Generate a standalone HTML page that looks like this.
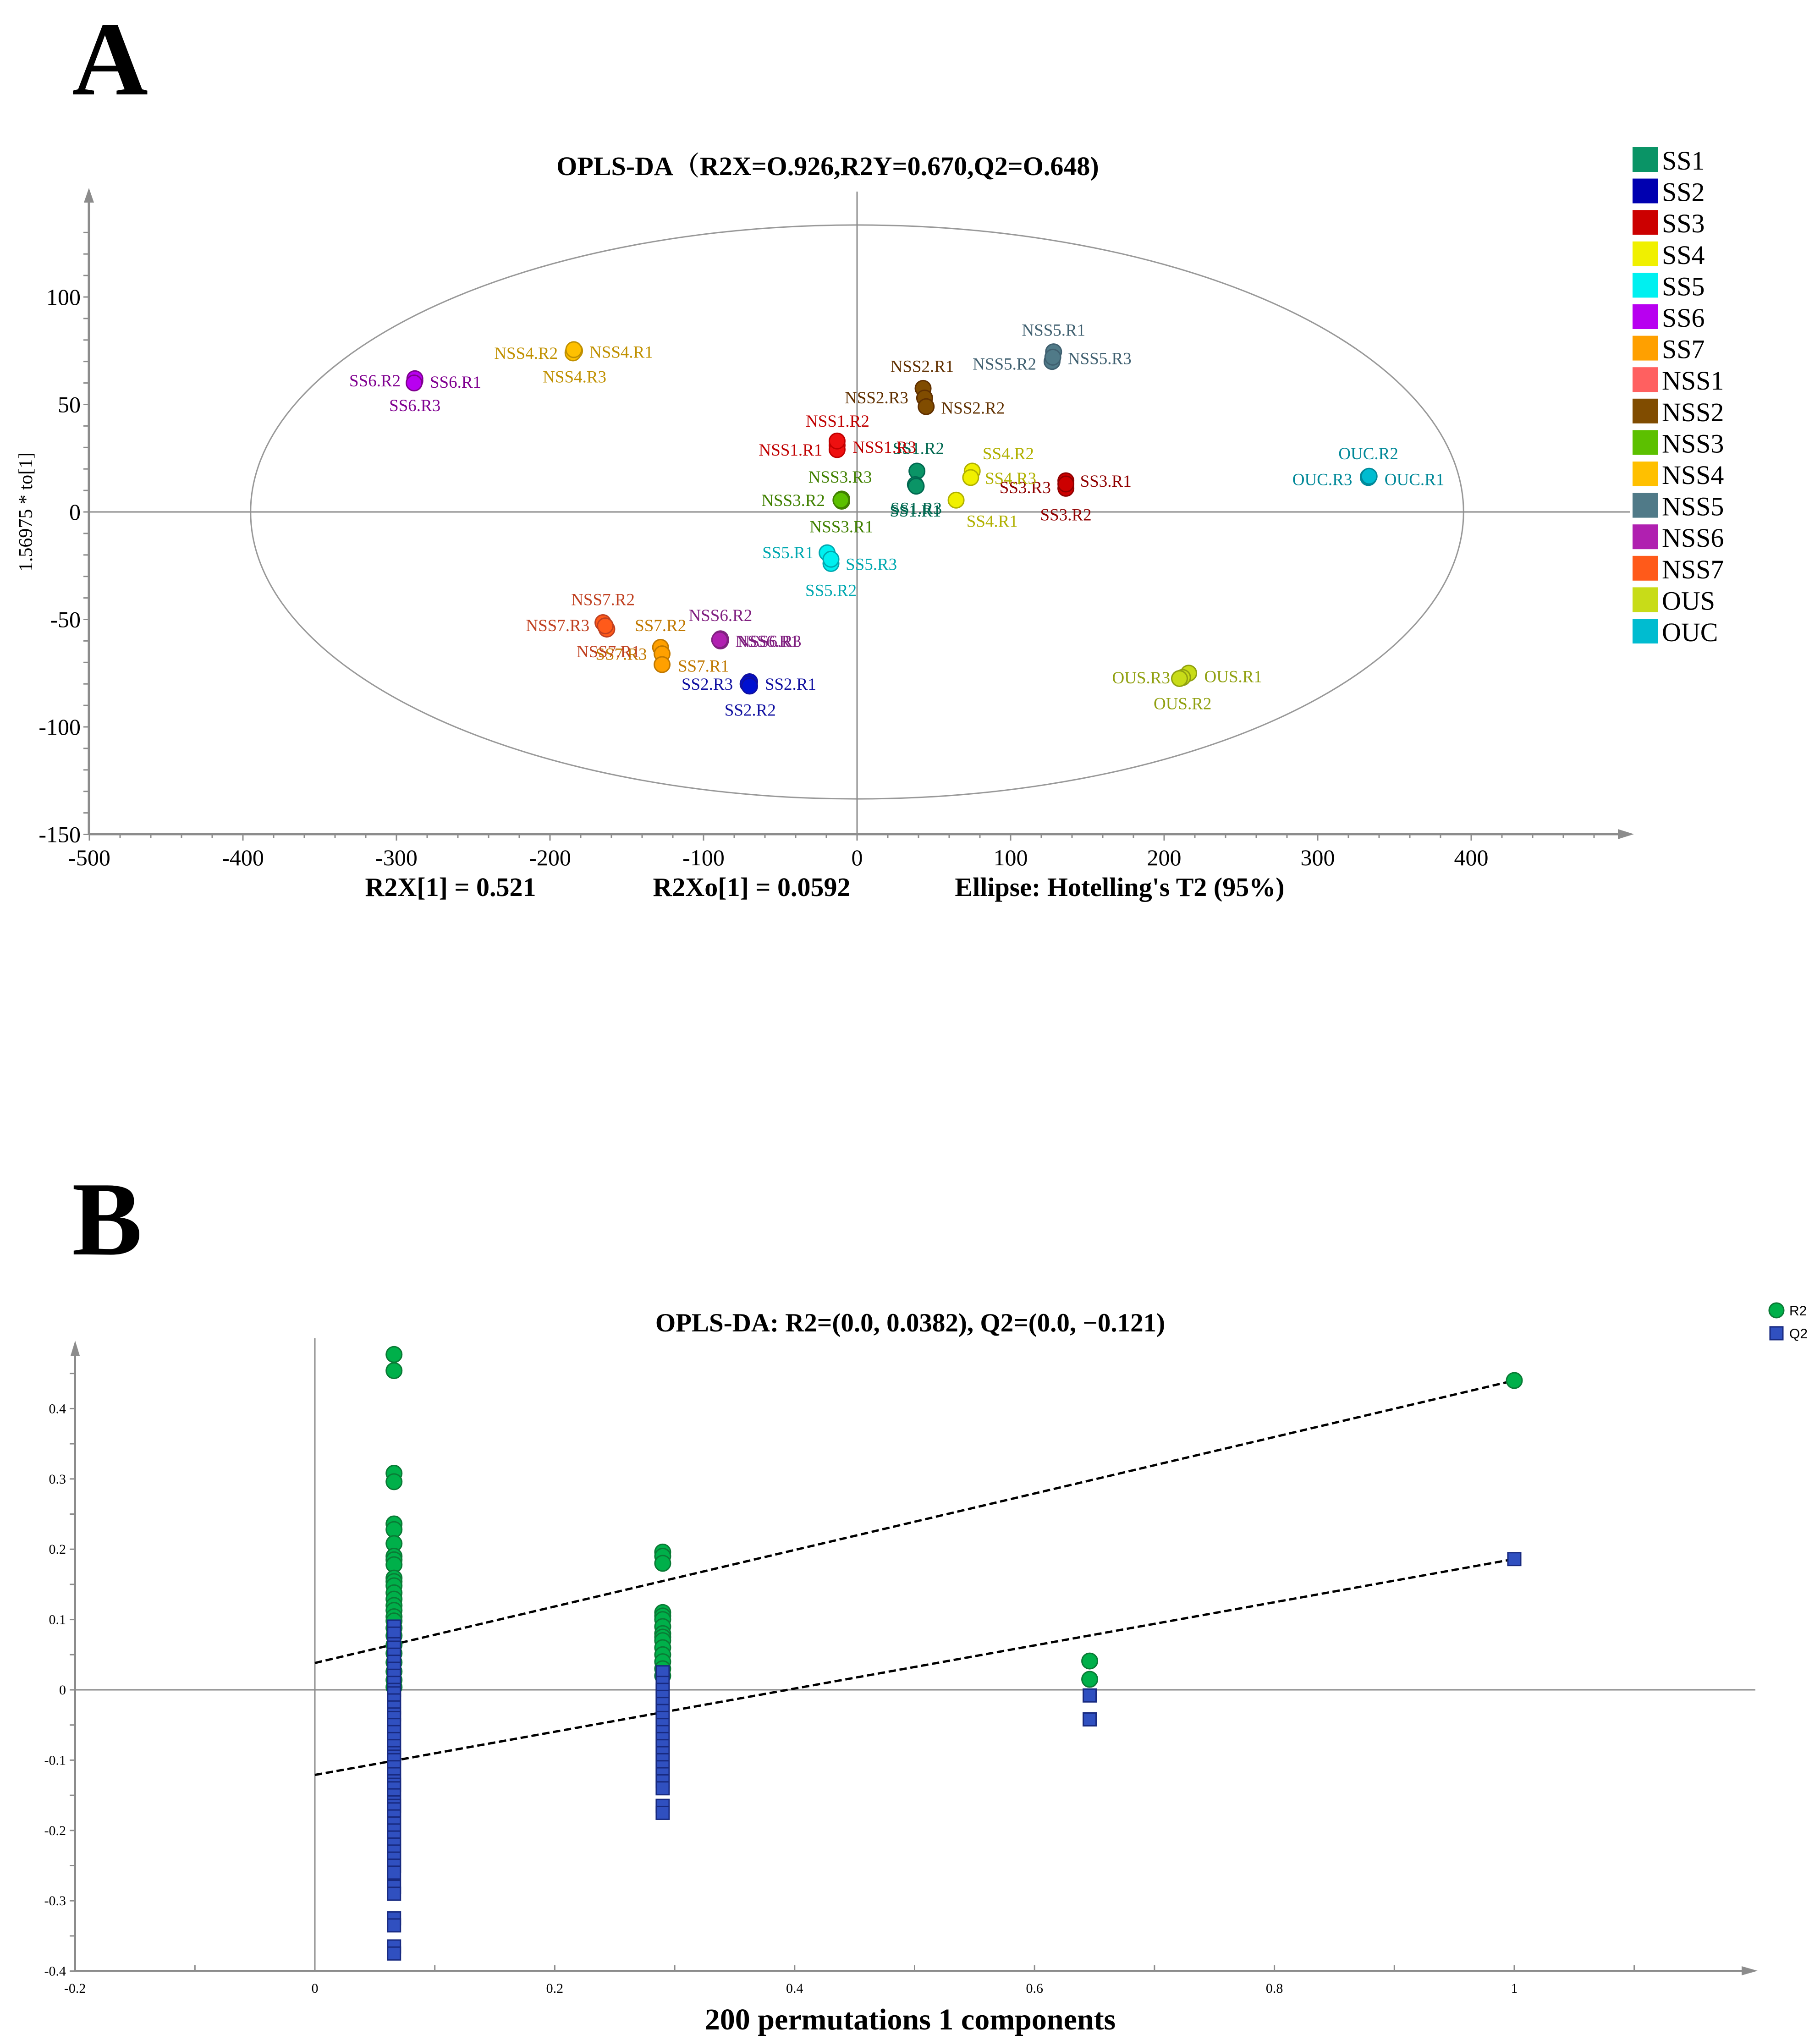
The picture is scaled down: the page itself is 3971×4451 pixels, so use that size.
<!DOCTYPE html>
<html><head><meta charset="utf-8"><style>
html,body{margin:0;padding:0;background:#fff}
svg{display:block}
text{font-family:"Liberation Serif","Noto Serif CJK SC",serif}
</style></head>
<body>
<svg id="svg" width="3971" height="4451" viewBox="0 0 3971 4451" xmlns="http://www.w3.org/2000/svg">
<text x="157" y="206" font-size="230" font-weight="bold">A</text>
<text x="157" y="2737" font-size="230" font-weight="bold">B</text>
<g id="chartA"></g>
<g id="chartB"></g>
</svg>
<script>
// ---------- Chart A data ----------
const groupNames = ["SS1","SS2","SS3","SS4","SS5","SS6","SS7","NSS1","NSS2","NSS3","NSS4","NSS5","NSS6","NSS7","OUS","OUC"];
const groupColors = ["#0a9466","#0000b0","#cc0000","#f0f000","#00f0f0","#b800f0","#ffa000","#ff6060","#804c00","#5cc000","#ffc000","#507a88","#b020b0","#ff5a1a","#c8dc18","#00bcd0"];
const pointFill = ["#0a9466","#0010d0","#cc0000","#f0f000","#00f0f0","#b800f0","#ffa000","#ee1010","#804c00","#5cc000","#ffc000","#507a88","#b020b0","#ff5a1a","#c8dc18","#00bcd0"];
const labelColors = ["#006850","#1010a0","#900000","#b0b000","#00a8b0","#800090","#c07800","#c00000","#603000","#408000","#c09000","#406070","#802080","#c04020","#90a010","#008898"];
const pointGroup = [0,0,0, 1,1,1, 2,2,2, 3,3,3, 4,4,4, 5,5,5, 6,6,6, 7,7,7, 8,8,8, 9,9,9, 10,10,10, 11,11,11, 12,12,12, 13,13,13, 14,14,14, 15,15,15];
const pointX = [39,38,38.5, -70,-71,-70, 136,136,136, 75,74,64.5, -19.5,-17,-17, -288,-288,-288.5, -128,-127,-127, -13,-13,-13, 43,44,45, -10,-10,-10.5, -184,-185,-184.5, 128,127,127.5, -89,-89,-89.5, -165.5,-163,-164, 216,212,210, 333,333,333.5];
const pointY = [19,12.7,12, -79,-80,-81, 14.5,11,13, 19,16,5.5, -19,-24,-22, 61,62,60, -63,-66,-71, 31,29,33, 57.5,53,49, 6,5,5.5, 75,74,75.5, 74.5,70,72, -59,-60,-59.5, -51.5,-54.5,-53, -75,-77,-77.5, 16.4,16,16.6];
const labelText = ["SS1.R1","SS1.R3","SS1.R2","SS2.R3","SS2.R1","SS2.R2","SS3.R3","SS3.R1","SS3.R2","SS4.R2","SS4.R3","SS4.R1","SS5.R1","SS5.R3","SS5.R2","SS6.R2","SS6.R1","SS6.R3","SS7.R2","SS7.R3","SS7.R1","NSS1.R2","NSS1.R1","NSS1.R3","NSS2.R1","NSS2.R3","NSS2.R2","NSS3.R3","NSS3.R2","NSS3.R1","NSS4.R2","NSS4.R1","NSS4.R3","NSS5.R1","NSS5.R2","NSS5.R3","NSS6.R2","NSS6.R1","NSS6.R3","NSS7.R2","NSS7.R3","NSS7.R1","OUS.R3","OUS.R1","OUS.R2","OUC.R2","OUC.R3","OUC.R1"];
const labelGroup = [0,0,0,1,1,1,2,2,2,3,3,3,4,4,4,5,5,5,6,6,6,7,7,7,8,8,8,9,9,9,10,10,10,11,11,11,12,12,12,13,13,13,14,14,14,15,15,15];
const labelX = [38,38.5,40, -97.6,-43.3,-69.6, 109.5,162,136, 98.5,100,88, -45,9.3,-17, -314,-261.5,-288, -128,-153.6,-100, -12.7,-43.3,17.8, 42.4,12.7,75.5, -11,-41.6,-10.2, -215.6,-153.6,-184, 128,96,158, -89,-58.6,-57, -165.5,-195,-162, 185,245,212, 333,303,363];
const labelY = [0.6,1.8,29.7, -80,-80,-92, 11.5,14.5,-1.2, 27.3,15.8,-4.2, -18.8,-24.2,-36.4, 61.2,60.6,49.7, -52.7,-66,-71.5, 42.4,29,30.3, 67.9,53.3,48.5, 16.4,5.5,-6.7, 74,74.5,63, 84.8,69,71.5, -48,-60,-60, -40.6,-52.7,-64.8, -77,-76.4,-89, 27.3,15.2,15.2];
const xTicksA = [-500,-400,-300,-200,-100,0,100,200,300,400];
const yTicksA = [100,50,0,-50,-100,-150];
const ellipseR = [395,133.5];

// ---------- Chart B data ----------
const permX = [0.066, 0.29, 0.646, 1.0];
const r2Col1 = [0.477,0.454,0.308,0.296,0.236,0.228,0.208,0.19,0.185,0.178,0.159,0.154,0.148,0.138,0.129,0.12,0.113,0.104,0.098,0.088,0.077,0.064,0.052,0.039,0.026,0.014,0.004];
const r2Col2 = [0.196,0.19,0.18,0.11,0.105,0.1,0.09,0.08,0.075,0.07,0.06,0.05,0.04,0.03,0.02];
const r2Col3 = [0.041,0.015];
const r2Col4 = [0.44];
const q2Col1 = [0.09,0.08,0.065,0.06,0.05,0.04,0.03,0.02,0.01,0.0,-0.005,-0.015,-0.025,-0.035,-0.04,-0.05,-0.06,-0.07,-0.08,-0.09,-0.095,-0.1,-0.11,-0.12,-0.13,-0.135,-0.14,-0.15,-0.16,-0.165,-0.17,-0.18,-0.19,-0.2,-0.21,-0.22,-0.23,-0.24,-0.25,-0.26,-0.28,-0.29,-0.325,-0.335,-0.365,-0.375];
const q2Col2 = [0.025,0.01,0.0,-0.01,-0.02,-0.03,-0.04,-0.05,-0.06,-0.07,-0.08,-0.09,-0.1,-0.11,-0.12,-0.13,-0.14,-0.165,-0.175];
const q2Col3 = [-0.008,-0.042];
const q2Col4 = [0.186];
const r2Line = [0.0382, 0.44];
const q2Line = [-0.121, 0.186];
const xTicksB = [-0.2,0,0.2,0.4,0.6,0.8,1];
const xTickLabelsB = ["-0.2","0","0.2","0.4","0.6","0.8","1"];
const yTicksB = [0.4,0.3,0.2,0.1,0,-0.1,-0.2,-0.3,-0.4];
const yTickLabelsB = ["0.4","0.3","0.2","0.1","0","-0.1","-0.2","-0.3","-0.4"];

const NS = "http://www.w3.org/2000/svg";
function mk(parent, tag, attrs, txt){
  const e = document.createElementNS(NS, tag);
  for (const k in attrs) e.setAttribute(k, attrs[k]);
  if (txt !== undefined) e.textContent = txt;
  parent.appendChild(e);
  return e;
}

// ---------- Draw chart A ----------
(function(){
  const g = document.getElementById('chartA');
  const X0 = 1870, XS = 3.35, Y0 = 1117, YS = 4.69;
  const sx = v => X0 + v*XS, sy = v => Y0 - v*YS;
  const axC = "#8c8c8c";
  let e;
  e = mk(g,'text',{x:1806,y:382,'font-size':58,'font-weight':'bold','text-anchor':'middle'},"OPLS-DA（R2X=O.926,R2Y=0.670,Q2=O.648)");
   
  e = mk(g,'ellipse',{cx:sx(0),cy:sy(0),rx:ellipseR[0]*XS,ry:ellipseR[1]*YS,fill:'none',stroke:'#999',"stroke-width":3});
   
  e = mk(g,'line',{x1:194,y1:sy(0),x2:3557,y2:sy(0),stroke:axC,"stroke-width":3});
   
  e = mk(g,'line',{x1:sx(0),y1:418,x2:sx(0),y2:1820,stroke:axC,"stroke-width":3});
   
  e = mk(g,'line',{x1:194,y1:1820,x2:3530,y2:1820,stroke:axC,"stroke-width":5});
   
  e = mk(g,'polygon',{points:"3530,1809 3565,1820 3530,1831",fill:axC});
   
  e = mk(g,'line',{x1:194,y1:1820,x2:194,y2:440,stroke:axC,"stroke-width":5});
   
  e = mk(g,'polygon',{points:"183,442 194,410 205,442",fill:axC});
   
  for (let v=-500; v<=480; v+=20){
    const major = v%100===0;
    e = mk(g,'line',{x1:sx(v),y1:1820,x2:sx(v),y2:1820+(major?14:9),stroke:axC,"stroke-width":3});
     
  }
  for (let v=-150; v<=130; v+=10){
    e = mk(g,'line',{x1:194,y1:sy(v),x2:182,y2:sy(v),stroke:axC,"stroke-width":3});
     
  }
  xTicksA.forEach(v=>{
    const t = mk(g,'text',{x:sx(v),y:1888,'font-size':50,'text-anchor':'middle'},String(v));
     
  });
  yTicksA.forEach(v=>{
    const t = mk(g,'text',{x:176,y:sy(v)+17,'font-size':50,'text-anchor':'end'},String(v));
     
  });
  e = mk(g,'text',{x:0,y:0,'font-size':42,'text-anchor':'middle',transform:'translate(70,1117) rotate(-90)'},"1.56975 * to[1]");
   
  e = mk(g,'text',{x:983,y:1955,'font-size':58,'font-weight':'bold','text-anchor':'middle'},"R2X[1] = 0.521");
   
  e = mk(g,'text',{x:1640,y:1955,'font-size':58,'font-weight':'bold','text-anchor':'middle'},"R2Xo[1] = 0.0592");
   
  e = mk(g,'text',{x:2443,y:1955,'font-size':58,'font-weight':'bold','text-anchor':'middle'},"Ellipse: Hotelling's T2 (95%)");
   
  pointX.forEach((v,i)=>{
    const gi = pointGroup[i];
    const c = mk(g,'circle',{cx:sx(v),cy:sy(pointY[i]),r:17,fill:pointFill[gi],stroke:labelColors[gi],"stroke-width":3});
    
    
  });
  labelText.forEach((s,i)=>{
    const t = mk(g,'text',{x:sx(labelX[i]),y:sy(labelY[i])+13,'font-size':37,'text-anchor':'middle',fill:labelColors[labelGroup[i]]},s);
    
    
  });
  groupNames.forEach((n,i)=>{
    const y = 321 + i*68.6;
    const r = mk(g,'rect',{x:3562,y:y,width:56,height:54,fill:groupColors[i]});
    
    
    const t = mk(g,'text',{x:3626,y:y+49,'font-size':58},n);
    
    
  });
})();

// ---------- Draw chart B ----------
(function(){
  const g = document.getElementById('chartB');
  const X0 = 687, XS = 2617, Y0 = 3687, YS = 1534;
  const sx = v => X0 + v*XS, sy = v => Y0 - v*YS;
  const axC = "#8c8c8c";
  let e;
  e = mk(g,'text',{x:1986,y:2905,'font-size':57,'font-weight':'bold','text-anchor':'middle'},"OPLS-DA: R2=(0.0, 0.0382), Q2=(0.0, \u22120.121)");
   
  e = mk(g,'line',{x1:164,y1:sy(0),x2:3830,y2:sy(0),stroke:axC,"stroke-width":3});
   
  e = mk(g,'line',{x1:sx(0),y1:2920,x2:sx(0),y2:4300,stroke:axC,"stroke-width":3});
   
  e = mk(g,'line',{x1:164,y1:4300,x2:3805,y2:4300,stroke:axC,"stroke-width":4});
   
  e = mk(g,'polygon',{points:"3800,4290 3835,4300 3800,4310",fill:axC});
   
  e = mk(g,'line',{x1:164,y1:4300,x2:164,y2:2955,stroke:axC,"stroke-width":4});
   
  e = mk(g,'polygon',{points:"154,2958 164,2925 174,2958",fill:axC});
   
  for (let v=-0.2; v<=1.11; v+=0.1){
    e = mk(g,'line',{x1:sx(v),y1:4300,x2:sx(v),y2:4288,stroke:axC,"stroke-width":3});
     
  }
  for (let v=-0.4; v<=0.46; v+=0.05){
    e = mk(g,'line',{x1:164,y1:sy(v),x2:152,y2:sy(v),stroke:axC,"stroke-width":3});
     
  }
  xTicksB.forEach((v,i)=>{
    const t = mk(g,'text',{x:sx(v),y:4348,'font-size':30,'text-anchor':'middle'},xTickLabelsB[i]);
     
  });
  yTicksB.forEach((v,i)=>{
    const t = mk(g,'text',{x:144,y:sy(v)+10,'font-size':30,'text-anchor':'end'},yTickLabelsB[i]);
     
  });
  e = mk(g,'text',{x:1986,y:4428,'font-size':66,'font-weight':'bold','text-anchor':'middle'},"200 permutations 1 components");
   
  e = mk(g,'line',{x1:sx(0),y1:sy(r2Line[0]),x2:sx(1),y2:sy(r2Line[1]),stroke:'#000',"stroke-width":5,"stroke-dasharray":"16,8"});
   
  e = mk(g,'line',{x1:sx(0),y1:sy(q2Line[0]),x2:sx(1),y2:sy(q2Line[1]),stroke:'#000',"stroke-width":5,"stroke-dasharray":"16,8"});
   
  const r2Cols = [r2Col1,r2Col2,r2Col3,r2Col4];
  const q2Cols = [q2Col1,q2Col2,q2Col3,q2Col4];
  r2Cols.forEach((col,ci)=>{
    col.forEach(v=>{
      const c = mk(g,'circle',{cx:sx(permX[ci]),cy:sy(v),r:17,fill:'#00b04a',stroke:'#0a7a35',"stroke-width":3});
      
      
    });
  });
  q2Cols.forEach((col,ci)=>{
    col.forEach(v=>{
      const r = mk(g,'rect',{x:sx(permX[ci])-14,y:sy(v)-14,width:28,height:28,fill:'#3050c0',stroke:'#182a80',"stroke-width":3});
      
      
    });
  });
  e = mk(g,'circle',{cx:3876,cy:2859,r:16,fill:'#00b04a',stroke:'#0a7a35',"stroke-width":3});
   
  e = mk(g,'text',{x:3904,y:2870,'font-size':30,style:'font-family:"Liberation Sans",sans-serif'},"R2");
   
  e = mk(g,'rect',{x:3862,y:2895,width:28,height:28,fill:'#3050c0',stroke:'#182a80',"stroke-width":3});
   
  e = mk(g,'text',{x:3904,y:2920,'font-size':30,style:'font-family:"Liberation Sans",sans-serif'},"Q2");
   
})();
</script>
</body></html>
